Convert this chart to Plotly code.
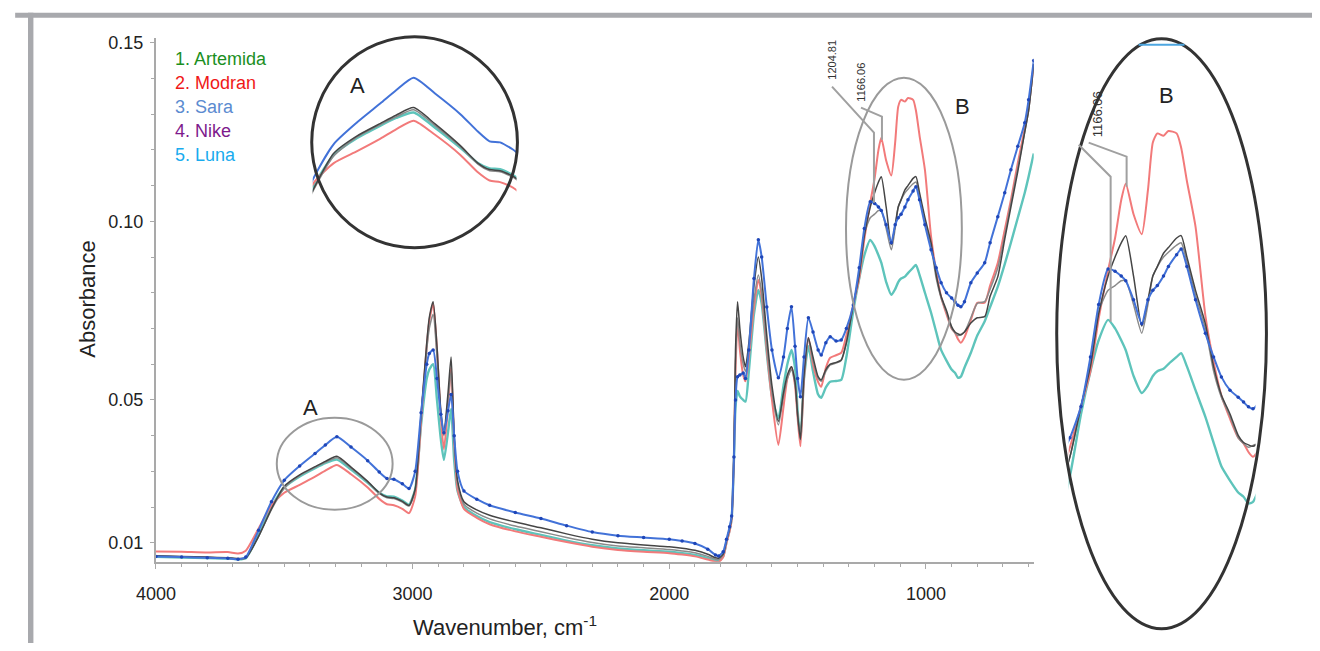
import plotly.graph_objects as go

# ---------------- data ----------------
wavenumber = [4000, 3900, 3800, 3720, 3680, 3650, 3600, 3550, 3500, 3440, 3380, 3340, 3295,
              3240, 3175, 3130, 3100, 3073, 3040, 3014, 2990, 2967, 2945, 2935, 2920, 2905,
              2890, 2878, 2862, 2850, 2838, 2825, 2800, 2750, 2700, 2600, 2500, 2400, 2300,
              2200, 2100, 2000, 1950, 1900, 1850, 1820, 1808, 1790, 1777, 1765, 1757, 1748,
              1742, 1734, 1725, 1712, 1703, 1690, 1670, 1653, 1640, 1620, 1600, 1575, 1555,
              1540, 1524, 1510, 1500, 1489, 1475, 1458, 1440, 1420, 1408, 1390, 1373, 1350,
              1330, 1310, 1283, 1260, 1240, 1217, 1200, 1185, 1174, 1155, 1135, 1120, 1108,
              1097, 1082, 1070, 1050, 1039, 1025, 1004, 980, 960, 941, 920, 900, 887, 875,
              864, 850, 825, 800, 771, 750, 720, 693, 669, 642, 615, 600, 580]

sara = [0.0062, 0.0060, 0.0058, 0.0057, 0.0054, 0.0060, 0.0135, 0.0215, 0.0275, 0.0315, 0.0350, 0.0374, 0.0397,
        0.0368, 0.0330, 0.0298, 0.0280, 0.0278, 0.0265, 0.0252, 0.0300, 0.0464, 0.0600, 0.0630, 0.0640, 0.0560,
        0.0460, 0.0408, 0.0470, 0.0515, 0.0400, 0.0300, 0.0245, 0.0222, 0.0205, 0.0185, 0.0168, 0.0148, 0.0130,
        0.0120, 0.0115, 0.0110, 0.0105, 0.0098, 0.0082, 0.0066, 0.0063, 0.0075, 0.0110, 0.0145, 0.0175, 0.0340,
        0.0500, 0.0565, 0.0570, 0.0575, 0.0560, 0.0640, 0.0840, 0.0948, 0.0900, 0.0760, 0.0640, 0.0562, 0.0620,
        0.0700, 0.0761, 0.0650, 0.0560, 0.0509, 0.0620, 0.0730, 0.0690, 0.0640, 0.0626, 0.0660, 0.0677, 0.0665,
        0.0668, 0.0700, 0.0766, 0.0870, 0.0980, 0.1055, 0.1050, 0.1040, 0.1030, 0.0990, 0.0940, 0.0990, 0.1010,
        0.1020, 0.1040, 0.1060, 0.1085, 0.1097, 0.1060, 0.0990, 0.0920, 0.0870, 0.0828, 0.0800, 0.0785, 0.0775, 0.0765,
        0.0761, 0.0775, 0.0828, 0.0855, 0.0884, 0.0940, 0.1013, 0.1080, 0.1144, 0.1210, 0.1276, 0.1340, 0.1450]

modran = [0.0076, 0.0075, 0.0073, 0.0074, 0.0070, 0.0078, 0.0140, 0.0205, 0.0240, 0.0262, 0.0285, 0.0302, 0.0318,
          0.0292, 0.0255, 0.0223, 0.0208, 0.0205, 0.0195, 0.0183, 0.0230, 0.0440, 0.0650, 0.0720, 0.0770, 0.0640,
          0.0450, 0.0362, 0.0480, 0.0590, 0.0380, 0.0250, 0.0195, 0.0170, 0.0152, 0.0132, 0.0117, 0.0102, 0.0089,
          0.0080, 0.0075, 0.0071, 0.0067, 0.0062, 0.0053, 0.0047, 0.0046, 0.0060, 0.0100, 0.0132, 0.0165, 0.0345,
          0.0580, 0.0720, 0.0640, 0.0570, 0.0552, 0.0620, 0.0760, 0.0836, 0.0790, 0.0640, 0.0500, 0.0374, 0.0480,
          0.0560, 0.0592, 0.0540, 0.0450, 0.0370, 0.0560, 0.0674, 0.0600, 0.0550, 0.0537, 0.0590, 0.0618, 0.0625,
          0.0632, 0.0680, 0.0766, 0.0840, 0.0950, 0.1052, 0.1120, 0.1200, 0.1234, 0.1170, 0.1128, 0.1220, 0.1321,
          0.1340, 0.1335, 0.1345, 0.1340, 0.1310, 0.1240, 0.1144, 0.0957, 0.0860, 0.0789, 0.0740, 0.0700, 0.0688, 0.0670,
          0.0660, 0.0675, 0.0724, 0.0772, 0.0772, 0.0820, 0.0884, 0.0976, 0.1060, 0.1164, 0.1260, 0.1320, 0.1440]

artemida = [0.0064, 0.0062, 0.0060, 0.0058, 0.0056, 0.0058, 0.0118, 0.0195, 0.0258, 0.0290, 0.0313, 0.0328, 0.0342,
            0.0312, 0.0272, 0.0240, 0.0228, 0.0226, 0.0216, 0.0205, 0.0250, 0.0460, 0.0660, 0.0730, 0.0775, 0.0650,
            0.0470, 0.0408, 0.0520, 0.0620, 0.0400, 0.0275, 0.0215, 0.0192, 0.0177, 0.0158, 0.0142, 0.0125, 0.0110,
            0.0100, 0.0094, 0.0089, 0.0085, 0.0079, 0.0068, 0.0058, 0.0057, 0.0068, 0.0106, 0.0140, 0.0170, 0.0350,
            0.0640, 0.0775, 0.0700, 0.0620, 0.0593, 0.0660, 0.0820, 0.0900, 0.0840, 0.0680, 0.0540, 0.0440, 0.0520,
            0.0570, 0.0593, 0.0550, 0.0460, 0.0390, 0.0570, 0.0674, 0.0620, 0.0565, 0.0556, 0.0585, 0.0600, 0.0605,
            0.0612, 0.0660, 0.0766, 0.0850, 0.0960, 0.1040, 0.1080, 0.1110, 0.1125, 0.1040, 0.0935, 0.0990, 0.1040,
            0.1060, 0.1088, 0.1100, 0.1120, 0.1125, 0.1080, 0.1010, 0.0940, 0.0850, 0.0790, 0.0750, 0.0705, 0.0690, 0.0685,
            0.0682, 0.0690, 0.0715, 0.0730, 0.0733, 0.0790, 0.0845, 0.0950, 0.1040, 0.1140, 0.1250, 0.1310, 0.1440]

nike = [0.0063, 0.0061, 0.0059, 0.0057, 0.0055, 0.0057, 0.0118, 0.0193, 0.0253, 0.0288, 0.0311, 0.0325, 0.0338,
        0.0309, 0.0270, 0.0238, 0.0226, 0.0224, 0.0214, 0.0203, 0.0248, 0.0455, 0.0640, 0.0700, 0.0740, 0.0620,
        0.0460, 0.0400, 0.0500, 0.0580, 0.0390, 0.0265, 0.0208, 0.0183, 0.0167, 0.0147, 0.0131, 0.0115, 0.0101,
        0.0091, 0.0086, 0.0081, 0.0077, 0.0072, 0.0062, 0.0054, 0.0053, 0.0066, 0.0104, 0.0138, 0.0168, 0.0345,
        0.0600, 0.0730, 0.0660, 0.0600, 0.0580, 0.0640, 0.0780, 0.0850, 0.0800, 0.0650, 0.0520, 0.0430, 0.0510,
        0.0560, 0.0585, 0.0545, 0.0455, 0.0388, 0.0565, 0.0670, 0.0610, 0.0560, 0.0552, 0.0580, 0.0598, 0.0603,
        0.0610, 0.0660, 0.0766, 0.0855, 0.0965, 0.1010, 0.1020, 0.1030, 0.1030, 0.0980, 0.0920, 0.0980, 0.1040,
        0.1060, 0.1080, 0.1090, 0.1105, 0.1110, 0.1070, 0.1000, 0.0930, 0.0840, 0.0785, 0.0745, 0.0700, 0.0688, 0.0680,
        0.0684, 0.0690, 0.0730, 0.0770, 0.0775, 0.0810, 0.0870, 0.0960, 0.1050, 0.1150, 0.1250, 0.1310, 0.1440]

luna = [0.0061, 0.0059, 0.0057, 0.0056, 0.0054, 0.0057, 0.0122, 0.0200, 0.0255, 0.0286, 0.0309, 0.0323, 0.0333,
        0.0305, 0.0268, 0.0240, 0.0230, 0.0229, 0.0218, 0.0207, 0.0250, 0.0430, 0.0560, 0.0585, 0.0600, 0.0500,
        0.0390, 0.0332, 0.0410, 0.0475, 0.0330, 0.0245, 0.0200, 0.0175, 0.0158, 0.0138, 0.0122, 0.0106, 0.0093,
        0.0084, 0.0079, 0.0075, 0.0071, 0.0066, 0.0057, 0.0050, 0.0048, 0.0062, 0.0102, 0.0136, 0.0168, 0.0335,
        0.0480, 0.0525, 0.0510, 0.0500, 0.0495, 0.0580, 0.0740, 0.0808, 0.0770, 0.0630, 0.0510, 0.0448, 0.0540,
        0.0600, 0.0640, 0.0590, 0.0470, 0.0395, 0.0560, 0.0650, 0.0580, 0.0515, 0.0506, 0.0535, 0.0551, 0.0553,
        0.0556, 0.0620, 0.0750, 0.0840, 0.0905, 0.0948, 0.0930, 0.0905, 0.0884, 0.0830, 0.0794, 0.0810, 0.0830,
        0.0840, 0.0845, 0.0855, 0.0870, 0.0878, 0.0850, 0.0800, 0.0744, 0.0690, 0.0640, 0.0610, 0.0585, 0.0576, 0.0562,
        0.0565, 0.0590, 0.0632, 0.0680, 0.0720, 0.0760, 0.0817, 0.0880, 0.0940, 0.1010, 0.1080, 0.1125, 0.1190]

legend_labels = ["1. Artemida", "2. Modran", "3. Sara", "4. Nike", "5. Luna"]
legend_colors = ["#1b8f1f", "#f01818", "#5b8bd0", "#7e1a8c", "#19abee"]
x_tick_vals = [4000, 3000, 2000, 1000]
x_tick_text = ["4000", "3000", "2000", "1000"]
y_tick_vals = [0.01, 0.05, 0.10, 0.15]
y_tick_text = ["0.01", "0.05", "0.10", "0.15"]
peak_labels = ["1204.81", "1166.06"]

# ---------------- helpers (target pixel in photo -> paper fraction) ----------------
OFF = 8                      # page body margin
W, H = 1304, 635
SX, OX = 0.986, 20.0         # observed photo = OX + SX * page_x
SY, OY = 0.992, 5.4          # observed photo = OY + SY * page_y

def px(x):
    return ((x - OX) / SX - OFF) / W
def py(y):
    return 1 - ((y - OY) / SY - OFF) / H

FONT = "Liberation Sans, Arial, Helvetica, sans-serif"

# (values, line colour, width, dotted-marker colour or None)
series = [
    (luna, "#5ec4bb", 2.4, None),
    (modran, "#f27a7a", 2.0, None),
    (nike, "#8a8a8a", 1.5, None),
    (artemida, "#454545", 1.5, None),
    (sara, "#4272d8", 2.0, "#1f46b8"),
]

fig = go.Figure()
for axes, with_dots in [(("x", "y"), True), (("x2", "y2"), False), (("x3", "y3"), True)]:
    for vals, col, w, dot in series:
        show_dots = with_dots and dot is not None
        fig.add_trace(go.Scatter(x=wavenumber, y=vals,
                                 mode="lines+markers" if show_dots else "lines",
                                 line=dict(color=col, width=w, shape="spline", smoothing=0.6),
                                 marker=dict(color=dot, size=3.5) if show_dots else None,
                                 xaxis=axes[0], yaxis=axes[1],
                                 showlegend=False, hoverinfo="skip"))

axis_col = "#a9a9a9"
hidden = dict(visible=False, showgrid=False, zeroline=False)

fig.update_layout(
    width=W, height=H, autosize=False,
    margin=dict(l=0, r=0, t=0, b=0, pad=0),
    paper_bgcolor="white", plot_bgcolor="rgba(0,0,0,0)",
    font=dict(family=FONT, color="#222222"),
    showlegend=False,
    xaxis=dict(domain=[px(156), px(1035)], range=[4000, 580], anchor="y",
               showline=True, linecolor=axis_col, linewidth=2,
               ticks="outside", ticklen=5, tickwidth=1, tickcolor=axis_col,
               tickvals=x_tick_vals, ticktext=x_tick_text,
               tickfont=dict(size=18, family=FONT, color="#222"),
               ticklabelstandoff=10,
               minor=dict(tick0=0, dtick=100, ticks="outside", ticklen=3, tickcolor=axis_col),
               showgrid=False, zeroline=False),
    yaxis=dict(domain=[py(562), py(38)], range=[0.0047, 0.1514], anchor="x",
               showline=True, linecolor=axis_col, linewidth=2,
               ticks="outside", ticklen=4, tickwidth=1, tickcolor=axis_col,
               tickvals=y_tick_vals, ticktext=y_tick_text,
               tickfont=dict(size=18, family=FONT, color="#222"),
               ticklabelstandoff=3,
               minor=dict(tick0=0, dtick=0.01, ticks="outside", ticklen=3, tickcolor=axis_col),
               showgrid=False, zeroline=False),
    xaxis2=dict(domain=[px(313), px(517)], range=[3554, 3031], anchor="y2", **hidden),
    yaxis2=dict(domain=[py(246), py(40)], range=[0.0088, 0.0467], anchor="x2", **hidden),
    xaxis3=dict(domain=[px(1070), px(1257)], range=[1313, 858], anchor="y3", **hidden),
    yaxis3=dict(domain=[py(633), py(41)], range=[0.029, 0.1535], anchor="x3", **hidden),
)

shapes = []
frame_col = "#a8a9ad"
# outer frame (top and left bars)
shapes.append(dict(type="rect", xref="paper", yref="paper", x0=-0.01, x1=1.01, y0=py(18), y1=py(13),
                   fillcolor=frame_col, line=dict(width=0), layer="below"))
shapes.append(dict(type="rect", xref="paper", yref="paper", x0=0, x1=5.5 / W, y0=-0.01, y1=py(13),
                   fillcolor=frame_col, line=dict(width=0), layer="below"))
# ellipses on the main plot
shapes.append(dict(type="circle", xref="paper", yref="paper", x0=px(277), x1=px(393), y0=py(510), y1=py(418),
                   line=dict(color="#9a9a9a", width=2)))
shapes.append(dict(type="circle", xref="paper", yref="paper", x0=px(847), x1=px(963), y0=py(380), y1=py(78),
                   line=dict(color="#9a9a9a", width=2)))
# inset outlines
shapes.append(dict(type="circle", xref="paper", yref="paper", x0=px(312), x1=px(518), y0=py(248), y1=py(37),
                   line=dict(color="#333333", width=3)))
shapes.append(dict(type="circle", xref="paper", yref="paper", x0=px(1058), x1=px(1268), y0=py(629), y1=py(39),
                   line=dict(color="#333333", width=3)))
shapes.append(dict(type="line", xref="paper", yref="paper", x0=px(1140), x1=px(1186), y0=py(45), y1=py(45),
                   line=dict(color="#4da6e0", width=2)))

def poly(points, col="#a0a0a0", w=2):
    path = "M " + " L ".join(f"{px(a):.5f},{py(b):.5f}" for a, b in points)
    return dict(type="path", xref="paper", yref="paper", path=path, line=dict(color=col, width=w))

# peak callouts (main)
shapes.append(poly([(833, 87), (875, 133), (875, 203)]))
shapes.append(poly([(862, 108), (883, 117), (883, 140)]))
# peak callouts (inset B)
shapes.append(poly([(1080, 145), (1112, 177), (1112, 322)]))
shapes.append(poly([(1090, 143), (1128, 157), (1128, 187)]))

fig.update_layout(shapes=shapes)

def label(text, x, y, size, color="#222", angle=0, xanchor="center"):
    return dict(x=px(x), y=py(y), xref="paper", yref="paper", text=text, textangle=angle,
                showarrow=False, xanchor=xanchor, yanchor="middle",
                font=dict(size=size, color=color, family=FONT))

ann = []
for i, (lab, col) in enumerate(zip(legend_labels, legend_colors)):
    ann.append(label(lab, 173, 59 + i * 24, 18, col, xanchor="left"))

ann.append(label("Absorbance", 88, 300, 22, angle=-90))
ann.append(label("Wavenumber, cm<sup>-1</sup>", 506, 626, 22))

for txt, x, y in [("A", 358, 86), ("A", 311, 408), ("B", 964, 107), ("B", 1168, 96)]:
    ann.append(label(txt, x, y, 22))

ann.append(label(peak_labels[0], 833, 60, 11, "#333", angle=-90))
ann.append(label(peak_labels[1], 862, 82, 11, "#333", angle=-90))
ann.append(label(peak_labels[1], 1099, 115, 13, "#333", angle=-90))

fig.update_layout(annotations=ann)

fig.write_html("out.html")
